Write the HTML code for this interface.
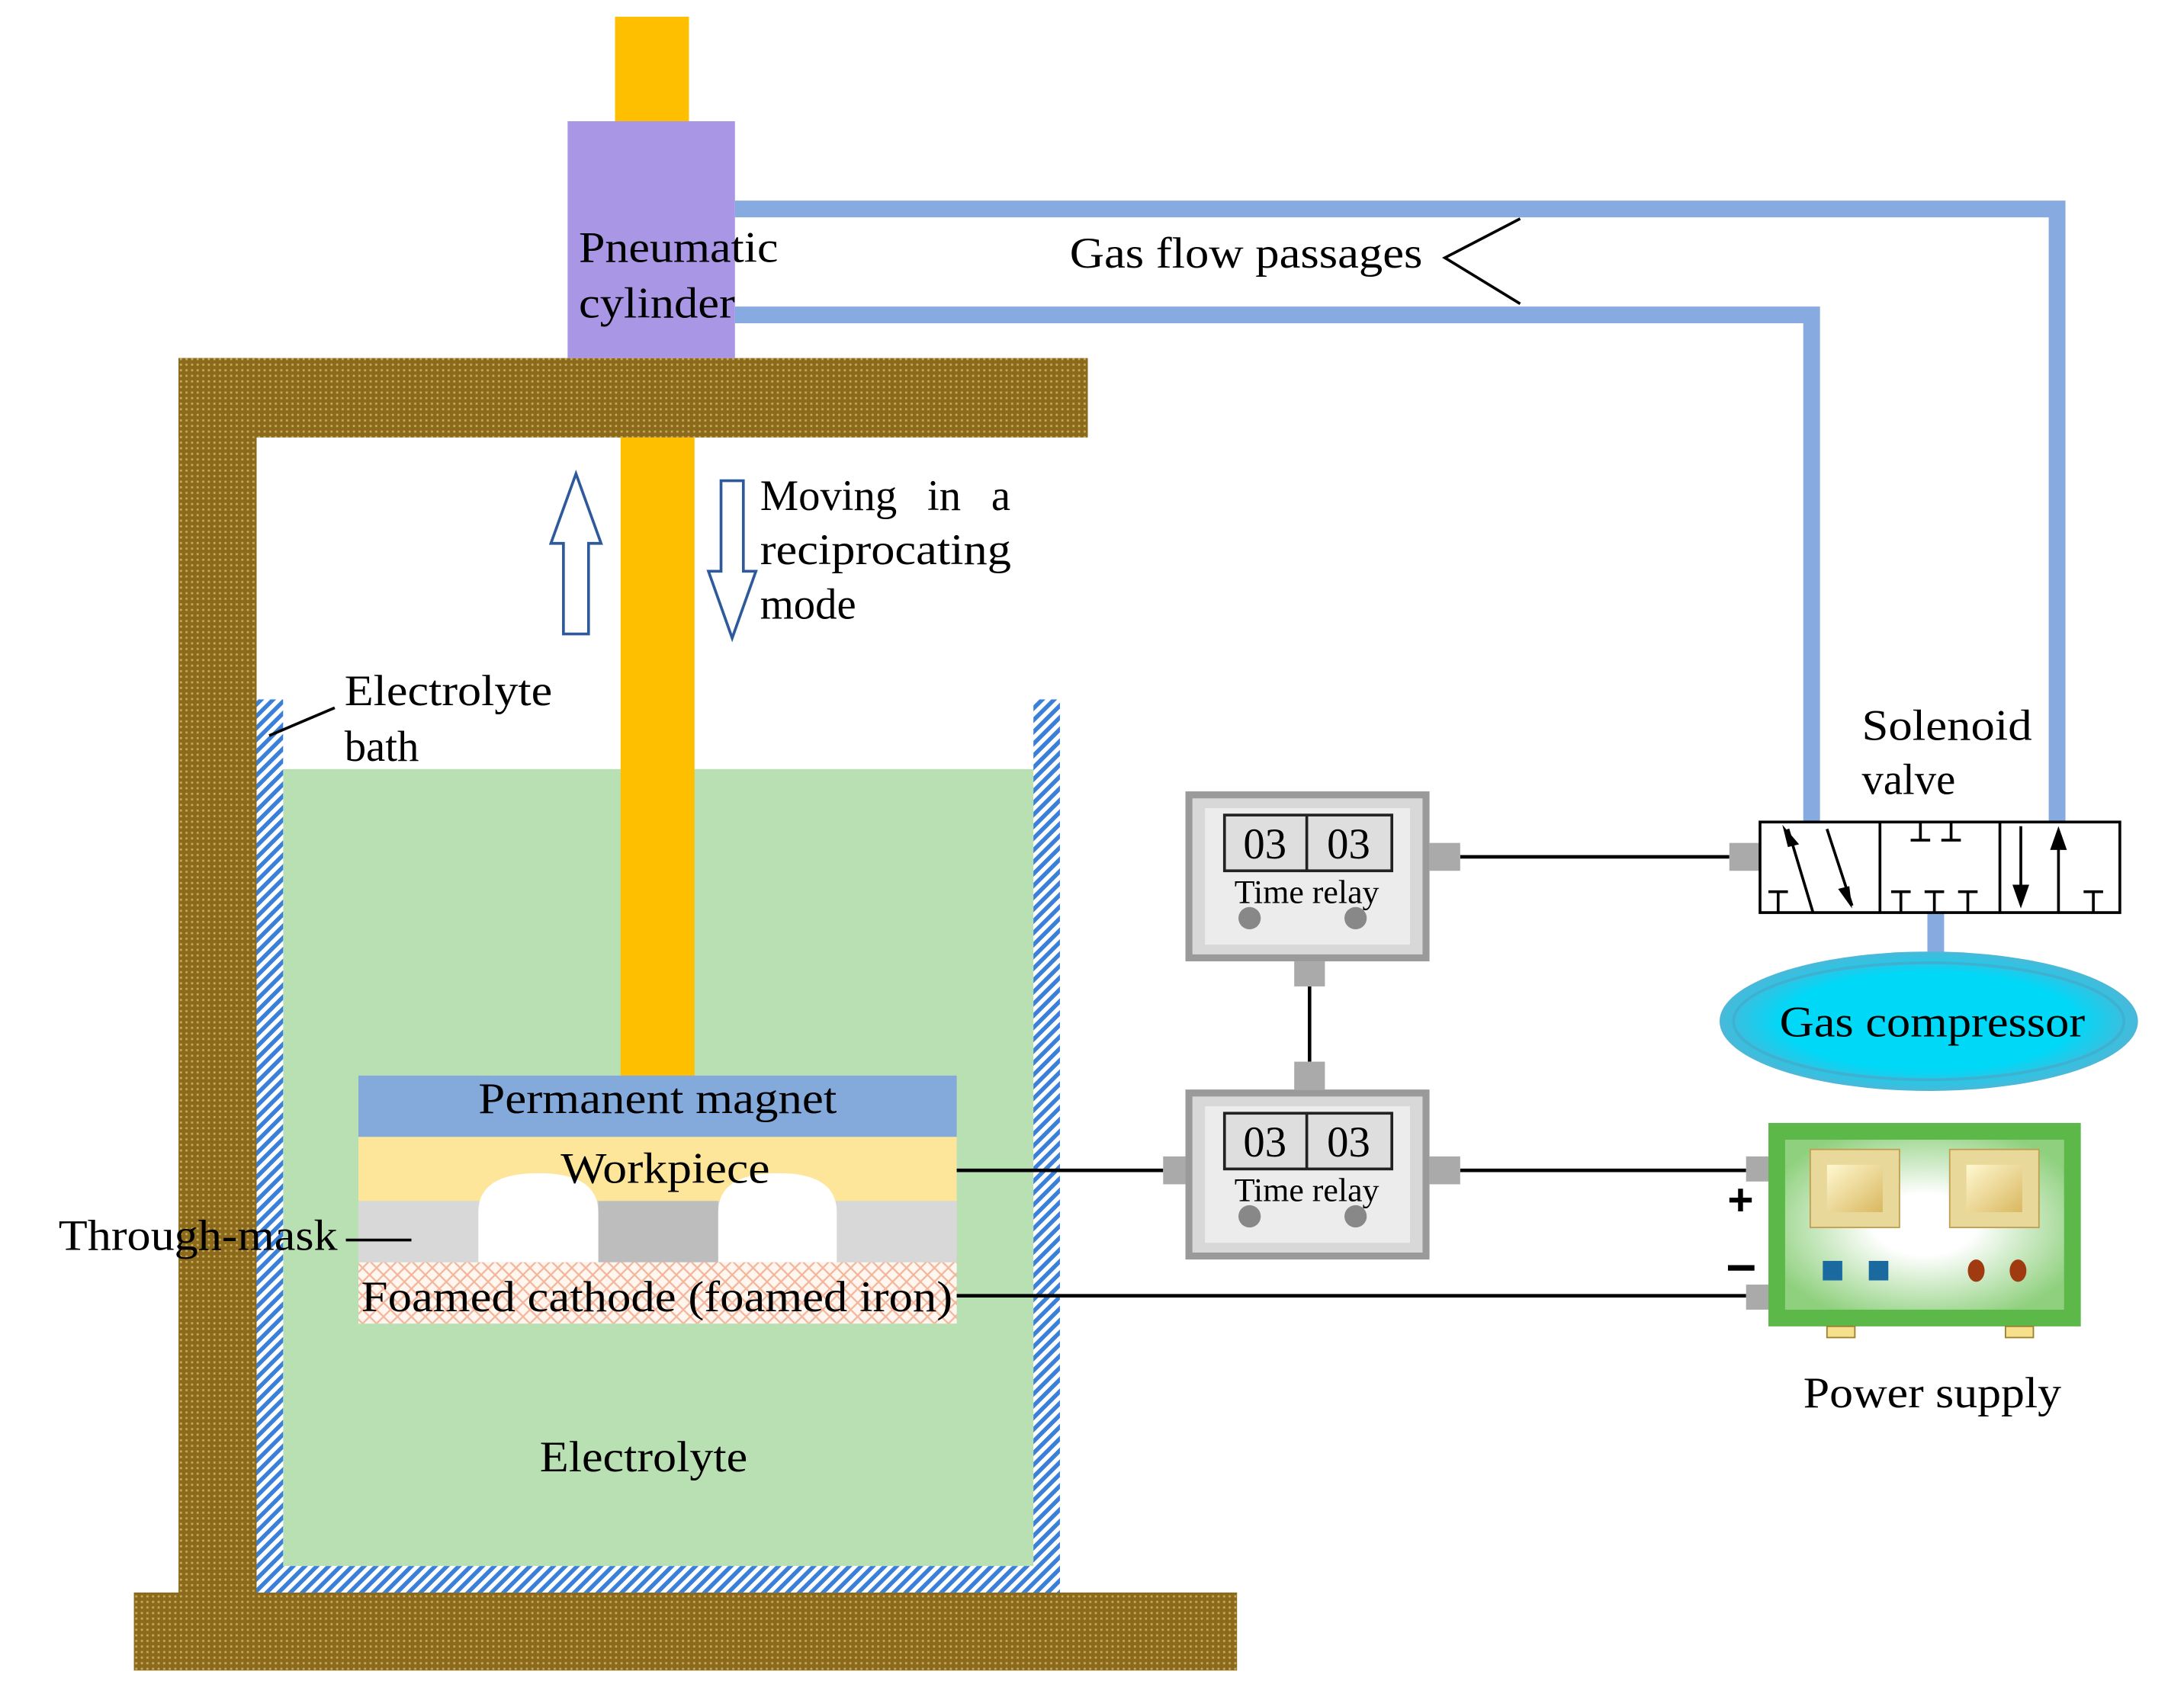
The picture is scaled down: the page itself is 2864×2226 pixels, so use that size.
<!DOCTYPE html>
<html><head><meta charset="utf-8"><style>html,body{margin:0;padding:0;background:#fff}svg{display:block}</style></head>
<body>
<svg width="2864" height="2226" viewBox="0 0 1566 1218" preserveAspectRatio="none" xmlns="http://www.w3.org/2000/svg" font-family="'Liberation Serif',serif" font-size="31">
<defs>
<pattern id="br" width="4" height="4" patternUnits="userSpaceOnUse"><rect width="4" height="4" fill="#8c6a1c"/><rect x="1" y="1" width="1.5" height="1.5" fill="#c9a95a"/></pattern>
<pattern id="bl" width="6" height="6" patternUnits="userSpaceOnUse" patternTransform="rotate(45)"><rect width="6" height="6" fill="#fff"/><rect width="3" height="6" fill="#3a7fd8"/></pattern>
<pattern id="fc" width="10" height="10" patternUnits="userSpaceOnUse"><rect width="10" height="10" fill="#fff6f0"/><path d="M0 0L10 10M10 0L0 10" stroke="#f4b59a" stroke-width="1.2"/></pattern>
<radialGradient id="ps" cx="0.5" cy="0.5" r="0.6"><stop offset="0.3" stop-color="#ffffff"/><stop offset="1" stop-color="#8fd07e"/></radialGradient>
<linearGradient id="kb" x1="0" y1="0" x2="1" y2="1"><stop offset="0" stop-color="#fff8d0"/><stop offset="1" stop-color="#d9b860"/></linearGradient>
<radialGradient id="gc" cx="0.5" cy="0.5" r="0.5"><stop offset="0.7" stop-color="#00d8f8"/><stop offset="1" stop-color="#4ab8d8"/></radialGradient>
</defs>
<rect x="128" y="257" width="652" height="57" fill="url(#br)"/>
<rect x="128" y="257" width="56" height="890" fill="url(#br)"/>
<rect x="96" y="1143" width="791" height="56" fill="url(#br)"/>
<rect x="203" y="552" width="538" height="572" fill="#b9e0b2"/>
<rect x="184" y="502" width="19" height="641" fill="url(#bl)"/>
<rect x="741" y="502" width="19" height="641" fill="url(#bl)"/>
<rect x="184" y="1124" width="576" height="19" fill="url(#bl)"/>
<rect x="441" y="12" width="53" height="76" fill="#fdbf00"/>
<rect x="445" y="314" width="53" height="460" fill="#fdbf00"/>
<rect x="407" y="87" width="120" height="170" fill="#a996e4"/>
<path d="M527 150H1475V590" fill="none" stroke="#87abe0" stroke-width="12"/>
<path d="M527 226H1299V590" fill="none" stroke="#87abe0" stroke-width="12"/>
<path d="M1388 655V685" stroke="#87abe0" stroke-width="12"/>
<text x="415" y="188" textLength="143" lengthAdjust="spacingAndGlyphs">Pneumatic</text>
<text x="415" y="228" textLength="112" lengthAdjust="spacingAndGlyphs">cylinder</text>
<text x="767" y="192" textLength="253" lengthAdjust="spacingAndGlyphs">Gas flow passages</text>
<path d="M1090 157L1036 185L1090 218" fill="none" stroke="#000" stroke-width="2"/>
<path d="M413 340L431 390H422V455H404V390H395Z" fill="#fff" stroke="#2e5a9c" stroke-width="2"/>
<path d="M517 345H533V410H542L525 458L508 410H517Z" fill="#fff" stroke="#2e5a9c" stroke-width="2"/>
<text x="545" y="366" word-spacing="14">Moving in a</text>
<text x="545" y="405" textLength="180" lengthAdjust="spacingAndGlyphs">reciprocating</text>
<text x="545" y="444">mode</text>
<text x="247" y="506" textLength="149" lengthAdjust="spacingAndGlyphs">Electrolyte</text>
<text x="247" y="546">bath</text>
<path d="M193 528L240 508" stroke="#000" stroke-width="2"/>
<rect x="257" y="772" width="429" height="44" fill="#84aadc"/>
<rect x="257" y="816" width="429" height="46" fill="#fde59a"/>
<rect x="257" y="862" width="429" height="44" fill="#d8d8d8"/>
<rect x="429" y="862" width="86" height="44" fill="#bdbdbd"/>
<path d="M343 906V870Q343 842 386 842Q429 842 429 870V906Z" fill="#fff"/>
<path d="M515 906V870Q515 842 558 842Q600 842 600 870V906Z" fill="#fff"/>
<rect x="257" y="906" width="429" height="44" fill="url(#fc)"/>
<text x="343" y="799" textLength="257" lengthAdjust="spacingAndGlyphs">Permanent magnet</text>
<text x="402" y="849" textLength="150" lengthAdjust="spacingAndGlyphs">Workpiece</text>
<text x="259" y="941" textLength="424" lengthAdjust="spacingAndGlyphs">Foamed cathode (foamed iron)</text>
<text x="42" y="897" textLength="200" lengthAdjust="spacingAndGlyphs">Through-mask</text>
<path d="M248 890H295" stroke="#000" stroke-width="2"/>
<text x="387" y="1056" textLength="149" lengthAdjust="spacingAndGlyphs">Electrolyte</text>
<g stroke="#000" stroke-width="2.5" fill="none">
<path d="M1047 615H1240"/><path d="M939 708V762"/><path d="M686 840H834"/><path d="M1047 840H1252"/><path d="M686 930H1252"/>
</g>
<g id="r1">
<rect x="850" y="568" width="175" height="122" fill="#9a9a9a"/>
<rect x="855" y="573" width="165" height="112" fill="#d8d8d8"/>
<rect x="864" y="580" width="147" height="98" fill="#ececec"/>
<rect x="878" y="585" width="120" height="40" fill="#dedede" stroke="#222" stroke-width="2"/>
<path d="M937 585V625" stroke="#222" stroke-width="2"/>
<text x="907" y="616" text-anchor="middle">03</text><text x="967" y="616" text-anchor="middle">03</text>
<text x="937" y="648" text-anchor="middle" font-size="24">Time relay</text>
<circle cx="896" cy="659" r="8" fill="#888"/><circle cx="972" cy="659" r="8" fill="#888"/>
</g>
<use href="#r1" transform="translate(0 214)"/>
<g fill="#aaa">
<rect x="1025" y="605" width="22" height="20"/><rect x="1240" y="605" width="22" height="20"/>
<rect x="928" y="690" width="22" height="18"/><rect x="928" y="762" width="22" height="20"/>
<rect x="834" y="830" width="16" height="20"/><rect x="1025" y="830" width="22" height="20"/>
<rect x="1252" y="830" width="18" height="18"/><rect x="1252" y="922" width="18" height="18"/>
</g>
<text x="1335" y="531" textLength="122" lengthAdjust="spacingAndGlyphs">Solenoid</text>
<text x="1335" y="570">valve</text>
<g fill="none" stroke="#000" stroke-width="2">
<rect x="1262" y="590" width="258" height="65" fill="#fff"/>
<path d="M1348 590V655M1434 590V655"/>
<path d="M1300 655L1282 595M1310 595L1328 650"/>
<path d="M1268 640H1282M1275 640V655"/>
<path d="M1370 603H1384M1377 603V590M1392 603H1406M1399 603V590"/>
<path d="M1356 640H1370M1363 640V655M1380 640H1394M1387 640V655M1404 640H1418M1411 640V655"/>
<path d="M1449 593V645M1476 600V655"/>
<path d="M1494 640H1508M1501 640V655"/>
</g>
<path d="M1278 592L1290 606L1282 608Z" fill="#000"/>
<path d="M1328 652L1318 638L1326 636Z" fill="#000"/>
<path d="M1449 652L1443 635H1455Z" fill="#000"/>
<path d="M1476 593L1470 610H1482Z" fill="#000"/>
<ellipse cx="1383" cy="733" rx="150" ry="50" fill="url(#gc)"/>
<ellipse cx="1383" cy="733" rx="140" ry="42" fill="none" stroke="#3fb0d0" stroke-width="2"/>
<text x="1276" y="744" textLength="219" lengthAdjust="spacingAndGlyphs">Gas compressor</text>
<rect x="1268" y="806" width="224" height="146" fill="#5cb848"/>
<rect x="1280" y="818" width="200" height="122" fill="url(#ps)"/>
<rect x="1298" y="825" width="64" height="56" fill="#e8d89a" stroke="#c0a050"/><rect x="1310" y="836" width="40" height="34" fill="url(#kb)"/>
<rect x="1398" y="825" width="64" height="56" fill="#e8d89a" stroke="#c0a050"/><rect x="1410" y="836" width="40" height="34" fill="url(#kb)"/>
<rect x="1307" y="905" width="14" height="14" fill="#1a6aa0"/><rect x="1340" y="905" width="14" height="14" fill="#1a6aa0"/>
<ellipse cx="1417" cy="912" rx="6" ry="8" fill="#a03a10"/><ellipse cx="1447" cy="912" rx="6" ry="8" fill="#a03a10"/>
<rect x="1310" y="952" width="20" height="8" fill="#f6e08c" stroke="#a08030"/><rect x="1438" y="952" width="20" height="8" fill="#f6e08c" stroke="#a08030"/>
<text x="1248" y="872" text-anchor="middle" font-family="'Liberation Sans',sans-serif" font-weight="bold" font-size="32">+</text>
<path d="M1239 910H1258" stroke="#000" stroke-width="4"/>
<text x="1293" y="1010" textLength="185" lengthAdjust="spacingAndGlyphs">Power supply</text>
</svg>
</body></html>
